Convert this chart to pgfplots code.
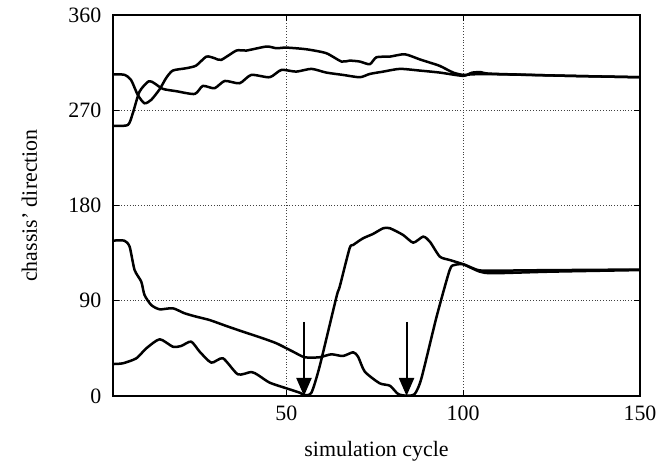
\documentclass[11pt,border=0pt]{standalone}
\usepackage{fontspec}
\setmainfont{Liberation Serif}
\usepackage{pgfplots}
\pgfplotsset{compat=1.18}
\usetikzlibrary{arrows.meta}

\tikzset{curve/.style={black, mark=none, line width=1.25pt, line join=round, smooth, tension=0.4}}

\begin{document}
\begin{tikzpicture}
\useasboundingbox (-56.5pt,-35pt) rectangle (273.5pt,198pt);
\begin{axis}[
    at={(0,0)}, anchor=south west,
    width=263.5pt, height=190.5pt, scale only axis,
    xmin=1, xmax=150, ymin=0, ymax=360,
    xtick={50,100,150}, ytick={0,90,180,270,360},
    grid=major,
    grid style={densely dotted, black!75, line width=0.4pt},
    axis line style={line width=0.7pt},
    tick style={black, line width=0.5pt},
    major tick length=3pt,
    xlabel={simulation cycle},
    ylabel={chassis' direction},
    xlabel style={at={(axis description cs:0.5,0)}, anchor=base, yshift=-30.5pt},
    ylabel style={at={(axis description cs:0,0.5)}, anchor=base, yshift=38pt},
    yticklabel style={xshift=-2pt},
    xticklabel style={yshift=-1pt},
    /pgf/number format/assume math mode=true,
]
% upper pair
\addplot[curve] coordinates {(1,304) (4.2,303.5) (6.1,298.7) (8,284.5) (9.9,276.6) (11.8,279.8) (14.2,289.9) (16,300.3) (17.9,307.5) (21.7,309.7) (24.5,312.2) (27.4,320.7) (29.7,319.2) (31.6,317.6) (35.9,326.4) (38.7,326.4) (44.4,330.2) (47.2,328.6) (50,329.2) (55.7,327.6) (61.3,323.9) (65.6,316) (67.9,316.9) (70.8,316) (73.6,313.5) (75.5,320.1) (79.3,320.7) (83.5,322.9) (87.7,318.1) (90.6,315) (93.4,311.9) (97.2,305.6) (100,303.4) (103,304) (110,304) (130,302.5) (150,301.2)};
\addplot[curve] coordinates {(1,255.2) (5.2,256.1) (6.6,267.2) (8.5,287.6) (11.1,297.4) (12.7,295.5) (15.1,290.2) (18.9,288) (24.1,285.4) (26.4,293) (29.7,290.8) (32.6,297.7) (36.8,295.5) (40.1,303.4) (45.3,301.2) (48.6,308.1) (52.8,306.5) (57.1,309.1) (61.3,305.6) (66,303.4) (70.8,301.2) (73.6,304.3) (77.4,306.5) (82.1,309.1) (87.7,307.5) (93.4,305.6) (100,302.5) (102.5,305.5) (105,306) (108,304.5) (130,302.5) (150,301.2)};
% lower pair
\addplot[curve] coordinates {(1,146.8) (4.2,146.8) (5.7,141.1) (7.1,119.1) (9,108) (9.9,95.5) (11.8,86) (14.2,81.9) (17.9,82.9) (21.2,78.2) (24.5,75) (28.3,71.8) (33,66.2) (37.7,60.8) (42.5,55.5) (47.2,49.8) (51.9,41.9) (55.2,36.6) (59.4,36.6) (62.7,39.4) (66,37.8) (68.9,41.3) (70.3,37.1) (72.2,23) (76.4,12) (79.3,9.7) (81.6,1.9) (84,0.3) (86.3,1.9) (88.2,16.7) (92.5,75) (96.2,119.1) (97.6,123.8) (100,124.5) (102.8,120.7) (105.7,118.4) (120,118.8) (150,119.5)};
\addplot[curve] coordinates {(1,30.2) (3.8,30.9) (7.6,35.6) (10.4,45) (14.2,53.6) (17.9,46.6) (20.3,47.3) (23.1,51.4) (25.5,41.9) (28.8,31.5) (32.1,35.6) (36.3,20.5) (40.1,22.7) (42,19.8) (45.3,12.6) (50,7.3) (53.8,3.1) (55.2,0.9) (57.1,3.1) (59.4,27.7) (64.2,93.9) (65.1,103.3) (67.9,139.6) (68.9,142.7) (71.7,149) (74.5,153.1) (77.4,158.5) (79.3,158.5) (83,152.2) (85.9,144.9) (88.7,150.6) (90.6,145.8) (93.4,131.7) (96.2,128.5) (100,124.5) (104.7,117.5) (108.5,116) (125,117.5) (150,119)};
% arrows
\addplot[black, quiver={u=0, v=-70}, -{Triangle[width=7.5pt, length=9pt]}, line width=1pt]
    coordinates {(55,70) (84,70)};
\end{axis}
\end{tikzpicture}
\end{document}
